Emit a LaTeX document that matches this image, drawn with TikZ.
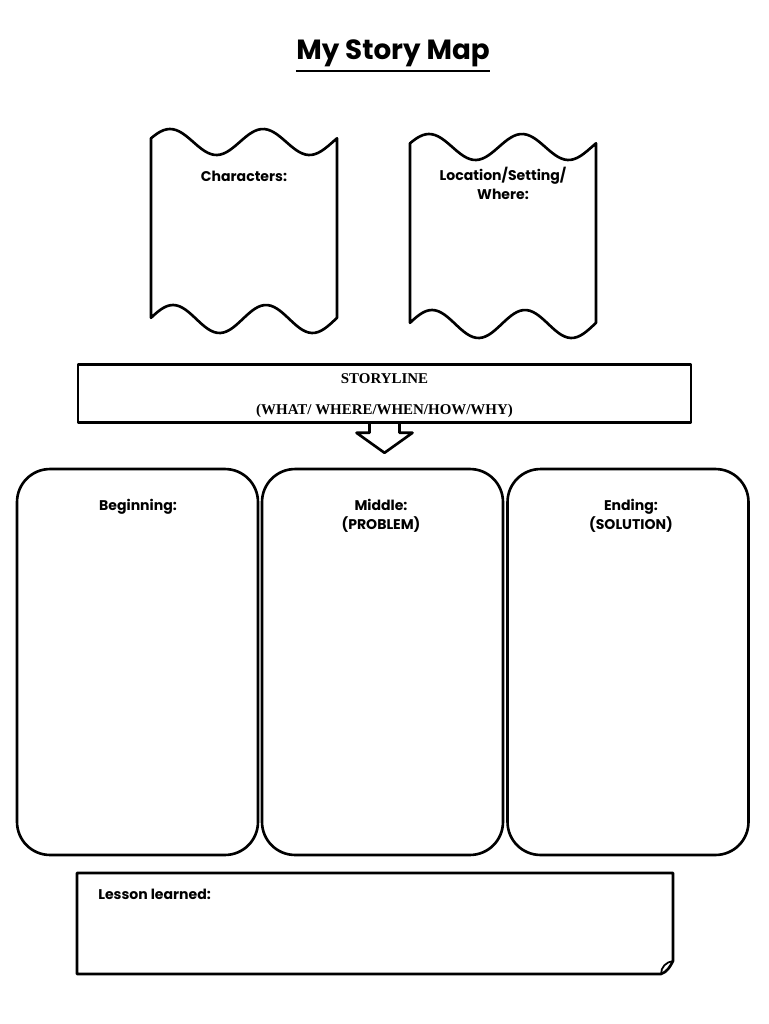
\documentclass[tikz,border=0pt]{standalone}
\usepackage{fontspec}
\setmainfont{Poppins}
\newfontfamily\storyfont{Liberation Serif}
\usetikzlibrary{calc}

\begin{document}
\begin{tikzpicture}[
          x=0.02cm, y=-0.02cm,
          outline/.style={draw=black, line width=1.5pt, line join=round},
          panel/.style={
              outline,
              rounded corners=0.66cm,
              minimum width=4.82cm,
              minimum height=7.72cm
            },
          banner/.style={
              outline,
              minimum width=12.26cm,
              minimum height=1.16cm
            },
          lbl/.style={font=\fontsize{8}{10}\selectfont\bfseries, anchor=base, inner sep=0pt},
          storytext/.style={font=\storyfont\fontsize{8.5}{10}\selectfont\bfseries, anchor=base, inner sep=0pt},
          scroll/.pic={
              \draw[outline] plot[domain=0:186, samples=60] (\x, {-13*cos(3.871*(\x-19))})
                -- plot[domain=186:0, samples=60] (\x, {177-14*cos(3.871*(\x-22))}) -- cycle;
            }
        ]
        \useasboundingbox (0,0) rectangle (768,1024);

        \node[font=\fontsize{15.8}{18}\selectfont\bfseries, anchor=base, inner xsep=0pt, inner ysep=2pt] (title) at (393,60) {My Story Map};
        \draw[line width=1.3pt] (title.south west) -- (title.south east);

        \pic at (151,142) {scroll};
        \pic at (410,147) {scroll};
        \node[lbl] (characters) at (244,181) {Characters:};
        \node[lbl] (place) at (503,180) {Location/Setting/};
        \node[lbl] (where) at (503,199) {Where:};

        \node[banner] (storyline) at (384.5,393.5) {};
        \node[storytext] (storytitle) at (384.5,383) {STORYLINE};
        \node[storytext] (storyq) at (384.5,414) {(WHAT/ WHERE/WHEN/HOW/WHY)};

        \draw[outline] ($(storyline.south)+(-15,0)$) -- ++(0,9) -- ++(-13,0)
          -- ($(storyline.south)+(0,29)$) -- ($(storyline.south)+(28,9)$) -- ++(-13,0) -- ++(0,-9);

        \node[panel] (beginning) at (137.5,662) {};
        \node[panel] (middle) at (382.5,662) {};
        \node[panel] (ending) at (628,662) {};
        \node[lbl] (beginlbl) at (138,510) {Beginning:};
        \node[lbl] (middlelbl) at (381,510) {Middle:};
        \node[lbl] (problem) at (381,529) {(PROBLEM)};
        \node[lbl] (endlbl) at (631,510) {Ending:};
        \node[lbl] (solution) at (631,529) {(SOLUTION)};

        \draw[outline] (673,961) .. controls (670,967) and (667,972) .. (661,974) -- (77,974)
          -- (77,873) -- (673,873) -- cycle;
        \draw[outline, line width=1pt] (661,974) .. controls (661,967) and (666,962) .. (673,961);
        \node[lbl, anchor=base west] (lesson) at (98,899) {Lesson learned:};
      \end{tikzpicture}
\end{document}
